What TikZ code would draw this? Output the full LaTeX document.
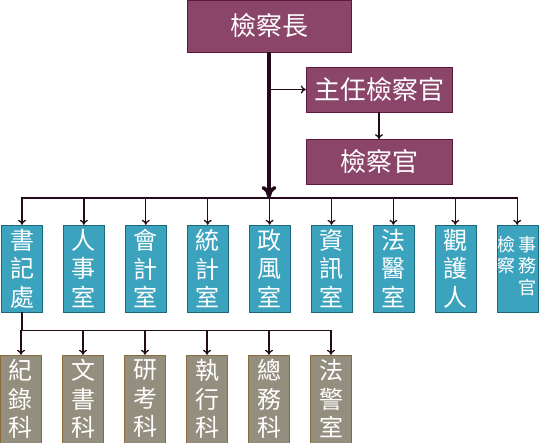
\documentclass[tikz,border=0pt]{standalone}
\usepackage{fontspec}
\newfontfamily\cjk{Noto Sans CJK TC}
\usetikzlibrary{positioning, arrows.meta}
\definecolor{plum}{HTML}{8B4569}
\definecolor{plumedge}{HTML}{5E1A3E}
\definecolor{unitblue}{HTML}{3CA3BE}
\definecolor{unitedge}{HTML}{1B6A7C}
\definecolor{sectgray}{HTML}{948E7E}
\definecolor{sectedge}{HTML}{8A6B3C}
\definecolor{wireclr}{HTML}{24091A}
\tikzset{
	headbox/.style = {
		draw = plumedge,
		fill = plum,
		rectangle,
		text = white,
		font = \cjk\fontsize{26}{26}\selectfont,
		minimum height = 45pt,
		inner sep = 0pt
	},
	unitbox/.style = {
		draw = unitedge,
		fill = unitblue,
		rectangle,
		text = white,
		align = center,
		font = \cjk\fontsize{24}{28.5}\selectfont,
		minimum width = 41pt,
		minimum height = 87pt,
		inner sep = 0pt
	},
	sectbox/.style = {
		unitbox,
		draw = sectedge,
		fill = sectgray,
		minimum height = 88pt
	},
	wire/.style = {
		draw = wireclr,
		line width = 1.3pt,
		-{To[length = 5pt, width = 8pt]}
	}
}

\begin{document}
\begin{tikzpicture}[x=1pt, y=1pt]
    \useasboundingbox (0,0) rectangle (539,-443) ;

    \node [headbox, minimum width = 164pt, minimum height = 52pt] (chief) at (269,-26) {檢察長} ;
    \node [headbox, minimum width = 146pt] (headpros) at (379,-89.5) {主任檢察官} ;
    \node [headbox, minimum width = 146pt, below = 27pt of headpros] (pros) {檢察官} ;

    \node [unitbox] (secretary) at (22,-268.5) {書\\記\\處} ;
    \node [unitbox, right = 20.5pt of secretary] (personnel) {人\\事\\室} ;
    \node [unitbox, right = 20.5pt of personnel] (accounting) {會\\計\\室} ;
    \node [unitbox, right = 20.5pt of accounting] (statistics) {統\\計\\室} ;
    \node [unitbox, right = 20.5pt of statistics] (ethics) {政\\風\\室} ;
    \node [unitbox, right = 20.5pt of ethics] (info) {資\\訊\\室} ;
    \node [unitbox, right = 20.5pt of info] (forensic) {法\\醫\\室} ;
    \node [unitbox, right = 20.5pt of forensic] (guardian) {觀\\護\\人} ;
    \node [unitbox, right = 20.5pt of guardian, font = \cjk\fontsize{18}{21}\selectfont] (clerk) {\begin{tabular}{@{}c@{\,}c@{}}檢&事\\察&務\\&官\end{tabular}} ;

    \node [sectbox] (record) at (21,-399) {紀\\錄\\科} ;
    \node [sectbox, right = 20.6pt of record] (docs) {文\\書\\科} ;
    \node [sectbox, right = 20.6pt of docs] (research) {研\\考\\科} ;
    \node [sectbox, right = 20.6pt of research] (execution) {執\\行\\科} ;
    \node [sectbox, right = 20.6pt of execution] (general) {總\\務\\科} ;
    \node [sectbox, right = 20.6pt of general] (police) {法\\警\\室} ;

    \coordinate (hub) at (chief.south |- 0,-198) ;
    \coordinate (hub2) at ([yshift = -18pt] secretary.south) ;

    \draw [wire] (chief.south |- headpros.west) -- (headpros.west) ;
    \draw [wire] (headpros) -- (pros) ;
    \foreach \n in {secretary, personnel, accounting, statistics, ethics, info, forensic, guardian, clerk}
        \draw [wire] (hub) -| (\n.north) ;
    \draw [wire, line width = 3.5pt, -{To[length = 12pt, width = 15pt]}] (chief) -- (hub) ;
    \foreach \n in {record, docs, research, execution, general, police}
        \draw [wire] (secretary.south) -- (hub2) -| (\n.north) ;
\end{tikzpicture}
\end{document}
